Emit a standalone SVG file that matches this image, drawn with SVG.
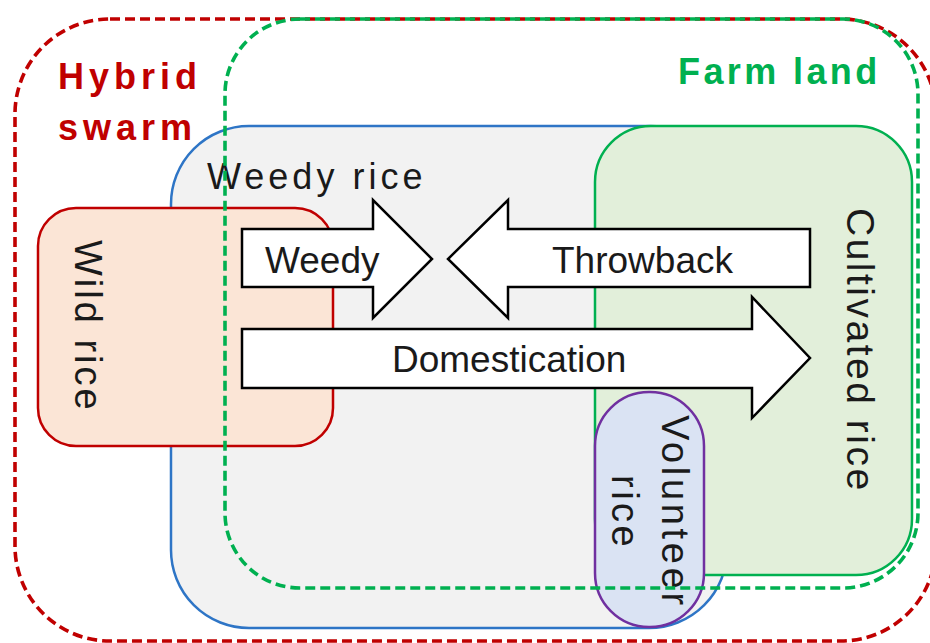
<svg xmlns="http://www.w3.org/2000/svg" width="930" height="643" viewBox="0 0 930 643">
<style>
.lbl{font-family:"Liberation Sans",Arial,sans-serif;font-size:36px;fill:#1a1a1a;letter-spacing:4px}
.arrowtxt{font-family:"Liberation Sans",Arial,sans-serif;font-size:37px;fill:#1a1a1a}
.arrow{fill:#fff;stroke:#000;stroke-width:2.5;stroke-linejoin:miter}
.dash{fill:none;stroke-width:3.6;stroke-dasharray:10 5}
</style>
<rect width="930" height="643" fill="#fff"/>
<g id="hybrid-swarm">
<rect class="dash" x="15" y="19" width="921" height="622" rx="95" stroke="#c00000"/>
<text x="58" y="89" font-family="Liberation Sans,Arial,sans-serif" font-size="36" font-weight="bold" fill="#c00000" letter-spacing="5">Hybrid</text>
<text x="58" y="140" font-family="Liberation Sans,Arial,sans-serif" font-size="36" font-weight="bold" fill="#c00000" letter-spacing="5">swarm</text>
</g>
<g id="weedy-rice">
<rect x="171" y="126" width="556" height="502" rx="78" fill="#f2f2f2" stroke="#2e75c6" stroke-width="2.5"/>
<text class="lbl" x="207" y="189">Weedy rice</text>
</g>
<g id="wild-rice">
<rect x="38" y="208" width="295" height="238" rx="38" fill="#fbe5d6" stroke="#c00000" stroke-width="2.5"/>
<text class="lbl" x="75" y="240" transform="rotate(90 75 240)" style="font-size:38px;letter-spacing:3px">Wild rice</text>
</g>
<g id="cultivated-rice">
<rect x="595" y="126" width="317" height="449" rx="56" fill="#e2efda" stroke="#00b050" stroke-width="2.5"/>
<text class="lbl" x="847" y="208" transform="rotate(90 847 208)" style="font-size:39px;letter-spacing:2.5px">Cultivated rice</text>
</g>
<g id="volunteer-rice">
<rect x="595" y="392" width="109" height="235" rx="54" fill="#dae3f3" stroke="#7030a0" stroke-width="2.5"/>
<text class="lbl" x="662" y="415" transform="rotate(90 662 415)" style="font-size:38px;letter-spacing:3.7px">Volunteer</text>
<text class="lbl" x="612" y="475" transform="rotate(90 612 475)" style="font-size:38px;letter-spacing:3.5px">rice</text>
</g>
<g id="farm-land">
<rect class="dash" x="225" y="19" width="693" height="569" rx="75" stroke="#00b050"/>
<text x="678" y="84" font-family="Liberation Sans,Arial,sans-serif" font-size="36" font-weight="bold" fill="#00b050" letter-spacing="3.4">Farm land</text>
</g>
<g id="connectors">
<g id="arrow-weedy">
<path class="arrow" d="M242,229 H373 V200 L432,259 L373,318 V287 H242 Z"/>
<text class="arrowtxt" x="265" y="273">Weedy</text>
</g>
<g id="arrow-throwback">
<path class="arrow" d="M810,229 H508 V200 L448,259 L508,318 V287 H810 Z"/>
<text class="arrowtxt" x="552" y="273">Throwback</text>
</g>
<g id="arrow-domestication">
<path class="arrow" d="M242,329 H752 V297 L810,358 L752,418 V388 H242 Z"/>
<text class="arrowtxt" x="392" y="372">Domestication</text>
</g>
</g>
</svg>
